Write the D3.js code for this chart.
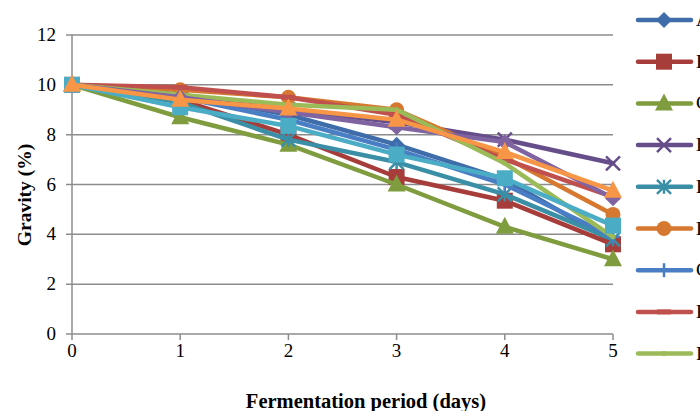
<!DOCTYPE html>
<html>
<head>
<meta charset="utf-8">
<script src="https://cdn.jsdelivr.net/npm/d3@7"></script>
<style>
  body { margin: 0; background: #fff; }
  text { font-family: "Liberation Serif", "Times New Roman", serif; }
</style>
</head>
<body>
<script>
// days on the x axis
const days = [0, 1, 2, 3, 4, 5]
const yTicks = [0, 2, 4, 6, 8, 10, 12]

// one array per series, gravity (%) for each day
const serA = [10, 9.6, 8.8, 7.6, 6.2, 3.7]
const serB = [10, 9.4, 8.0, 6.3, 5.35, 3.6]
const serC = [10, 8.7, 7.6, 6.0, 4.3, 3.0]
const serD = [10, 9.6, 9.0, 8.5, 7.8, 6.85]
const serE = [10, 9.3, 7.8, 6.9, 5.6, 3.8]
const serF = [10, 9.8, 9.5, 9.0, 7.1, 4.8]
const serG = [10, 9.5, 8.6, 7.4, 6.0, 3.9]
const serH = [10, 9.9, 9.5, 8.8, 7.0, 5.5]
const serI = [10, 9.6, 9.2, 9.0, 6.85, 3.9]
const serJ = [10, 9.5, 8.9, 8.3, 7.7, 5.45]
const serK = [10, 9.1, 8.35, 7.2, 6.25, 4.35]
const serL = [10, 9.4, 9.05, 8.6, 7.3, 5.75]

const names = ['A', 'B', 'C', 'D', 'E', 'F', 'G', 'H', 'I', 'J', 'K', 'L']
const values = [serA, serB, serC, serD, serE, serF, serG, serH, serI, serJ, serK, serL]
const colors = ['#3f6daa', '#a63d3a', '#7f9c3f', '#664e8a', '#3a8fa6', '#d6782f',
                '#4a7ec4', '#c0504d', '#9bbb59', '#8064a2', '#4bacc6', '#f79646']
const markers = ['diamond', 'square', 'triangle', 'x', 'star', 'circle',
                 'plus', 'dash', 'dot', 'diamond', 'square', 'triangle']

const w = 700
const h = 411
const plotLeft = 72
const plotRight = 613
const plotTop = 35
const plotBottom = 334

const svg = d3.select('body').append('svg')
  .attr('width', w)
  .attr('height', h)

const xScale = d3.scaleLinear().domain([0, 5]).range([plotLeft, plotRight])
const yScale = d3.scaleLinear().domain([0, 12]).range([plotBottom, plotTop])

// gridlines
svg.append('g')
  .selectAll('line')
  .data(yTicks)
  .enter()
  .append('line')
  .attr('x1', plotLeft - 6)
  .attr('x2', plotRight)
  .attr('y1', d => yScale(d))
  .attr('y2', d => yScale(d))
  .attr('stroke', '#8c8c8c')
  .attr('stroke-width', 1.5)

// y axis line
svg.append('line')
  .attr('x1', plotLeft).attr('x2', plotLeft)
  .attr('y1', plotTop).attr('y2', plotBottom)
  .attr('stroke', '#8c8c8c')
  .attr('stroke-width', 1.5)

// x ticks
svg.append('g')
  .selectAll('line')
  .data(days)
  .enter()
  .append('line')
  .attr('x1', d => xScale(d))
  .attr('x2', d => xScale(d))
  .attr('y1', plotBottom)
  .attr('y2', plotBottom + 6)
  .attr('stroke', '#8c8c8c')
  .attr('stroke-width', 1.5)

svg.append('g')
  .selectAll('text')
  .data(yTicks)
  .enter()
  .append('text')
  .attr('x', plotLeft - 16)
  .attr('y', d => yScale(d) + 6)
  .attr('text-anchor', 'end')
  .attr('font-size', 19)
  .text(d => d)

svg.append('g')
  .selectAll('text')
  .data(days)
  .enter()
  .append('text')
  .attr('x', d => xScale(d))
  .attr('y', plotBottom + 23)
  .attr('text-anchor', 'middle')
  .attr('font-size', 19)
  .text(d => d)

svg.append('text')
  .attr('text-anchor', 'middle')
  .attr('font-weight', 'bold')
  .attr('font-size', 19.5)
  .attr('transform', 'translate(31,195)rotate(-90)')
  .text('Gravity (%)')

svg.append('text')
  .attr('text-anchor', 'middle')
  .attr('font-weight', 'bold')
  .attr('font-size', 20.5)
  .attr('x', 366)
  .attr('y', 408)
  .text('Fermentation period (days)')

const drawMarker = (g, type, color, x, y) => {
  if (type === 'diamond') {
    g.append('path')
      .attr('d', `M${x},${y - 8}L${x + 8},${y}L${x},${y + 8}L${x - 8},${y}Z`)
      .attr('fill', color)
  } else if (type === 'square') {
    g.append('rect')
      .attr('x', x - 8).attr('y', y - 8)
      .attr('width', 16).attr('height', 16)
      .attr('fill', color)
  } else if (type === 'triangle') {
    g.append('path')
      .attr('d', `M${x},${y - 10}L${x + 9},${y + 7}L${x - 9},${y + 7}Z`)
      .attr('fill', color)
  } else if (type === 'circle') {
    g.append('circle')
      .attr('cx', x).attr('cy', y).attr('r', 7.5)
      .attr('fill', color)
  } else if (type === 'dot') {
    g.append('circle')
      .attr('cx', x).attr('cy', y).attr('r', 2.5)
      .attr('fill', color)
  } else if (type === 'dash') {
    g.append('rect')
      .attr('x', x - 7).attr('y', y - 2.5)
      .attr('width', 14).attr('height', 5)
      .attr('fill', color)
  } else {
    const r = 7
    let segs = []
    if (type === 'x' || type === 'star') segs.push([-r, -r, r, r], [-r, r, r, -r])
    if (type === 'plus') segs.push([-r, 0, r, 0])
    if (type === 'plus' || type === 'star') segs.push([0, -r, 0, r])
    segs.forEach(s => {
      g.append('line')
        .attr('x1', x + s[0]).attr('y1', y + s[1])
        .attr('x2', x + s[2]).attr('y2', y + s[3])
        .attr('stroke', color)
        .attr('stroke-width', 2.5)
    })
  }
}

const line = d3.line()
  .x((d, i) => xScale(days[i]))
  .y(d => yScale(d))

values.forEach((vals, idx) => {
  const g = svg.append('g').attr('class', 'series ' + names[idx])
  g.append('path')
    .attr('d', line(vals))
    .attr('fill', 'none')
    .attr('stroke', colors[idx])
    .attr('stroke-width', 4.5)
    .attr('stroke-linejoin', 'round')
    .attr('stroke-linecap', 'round')
  vals.forEach((v, i) => drawMarker(g, markers[idx], colors[idx], xScale(days[i]), yScale(v)))
})

// legend, only the first nine fit
const legendRows = names.slice(0, 9)
legendRows.forEach((n, i) => {
  const y = 20 + i * 41.7
  const g = svg.append('g').attr('class', 'legend')
  g.append('line')
    .attr('x1', 638).attr('x2', 691)
    .attr('y1', y).attr('y2', y)
    .attr('stroke', colors[i])
    .attr('stroke-width', 4.5)
    .attr('stroke-linecap', 'round')
  drawMarker(g, markers[i], colors[i], 664, y)
  g.append('text')
    .attr('x', 696)
    .attr('y', y + 6)
    .attr('font-size', 19)
    .text(n)
})
</script>
</body>
</html>
